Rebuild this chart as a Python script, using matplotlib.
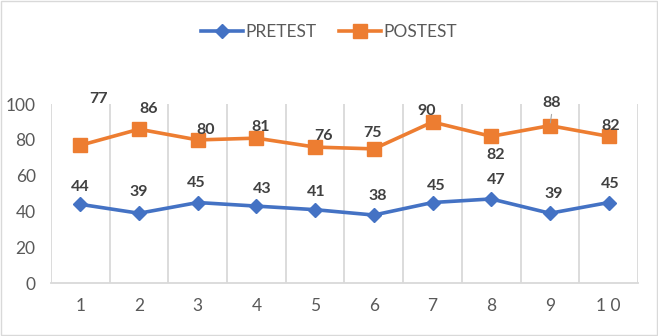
import matplotlib.pyplot as plt
from matplotlib.patches import Rectangle

sessions = [1, 2, 3, 4, 5, 6, 7, 8, 9, 10]
pretest = [44, 39, 45, 43, 41, 38, 45, 47, 39, 45]
posttest = [77, 86, 80, 81, 76, 75, 90, 82, 88, 82]

# label offsets in pixels (dx, dy), roughly where the labels sit in the sheet
pre_offsets = [(0, 17), (0, 21), (-2, 20), (6, 17), (1, 18), (4, 19), (4, 17), (5, 19), (4, 19), (2, 19)]
post_offsets = [(18, 46), (10, 20), (8, 10), (4, 11), (8, 11), (-1, 16), (-6, 11), (4, -19), (2, 23), (2, 10)]

plt.rcParams['font.family'] = ['Lato', 'DejaVu Sans']

fig = plt.figure(figsize=(6.58, 3.36), dpi=100)
ax = fig.add_axes([0.0775, 0.1577, 0.8921, 0.5323])

blue = '#4472C4'
orange = '#ED7D31'

ax.plot(sessions, pretest, color=blue, lw=2.6, marker='D', ms=7.5, label='PRETEST', zorder=3)
ax.plot(sessions, posttest, color=orange, lw=2.6, marker='s', ms=10, label='POSTEST', zorder=3)

for x, v, (dx, dy) in zip(sessions, pretest, pre_offsets):
    ax.annotate(str(v), (x, v), xytext=(dx, dy), textcoords='offset pixels',
                ha='center', va='center', fontsize=11.5, fontweight='bold', color='#404040', zorder=4)
for x, v, (dx, dy) in zip(sessions, posttest, post_offsets):
    ax.annotate(str(v), (x, v), xytext=(dx, dy), textcoords='offset pixels',
                ha='center', va='center', fontsize=11.5, fontweight='bold', color='#404040', zorder=4)

# leader line for the label of session 9
ax.annotate('', (9, 88), xytext=(2, 14), textcoords='offset pixels',
            arrowprops=dict(arrowstyle='-', color='#A6A6A6', lw=0.8))

ax.set_xlim(0.5, 10.5)
ax.set_ylim(0, 100)
ax.set_yticks(range(0, 101, 20))
ax.set_xticks(sessions)
ax.set_xticklabels([str(s) if s < 10 else '1 0' for s in sessions])

# vertical gridlines between categories
for b in range(0, 11):
    ax.axvline(b + 0.5, color='#D9D9D9', lw=1.3, zorder=1)

for side in ['top', 'right', 'left']:
    ax.spines[side].set_visible(False)
ax.spines['bottom'].set_color('#D9D9D9')
ax.spines['bottom'].set_linewidth(1.3)
ax.tick_params(axis='both', length=0, labelsize=12.5, labelcolor='#595959')
ax.tick_params(axis='x', pad=11)
ax.tick_params(axis='y', pad=11)

leg = fig.legend(loc='center', bbox_to_anchor=(0.5, 0.905), ncol=2, frameon=False,
                 fontsize=12.5, handlelength=2.4, columnspacing=1.3, handletextpad=0.15)
for t in leg.get_texts():
    t.set_color('#595959')

fig.patches.append(Rectangle((0.002, 0.003), 0.996, 0.994, transform=fig.transFigure,
                             fill=False, edgecolor='#D9D9D9', lw=1))

fig.savefig('out.png', dpi=100)
